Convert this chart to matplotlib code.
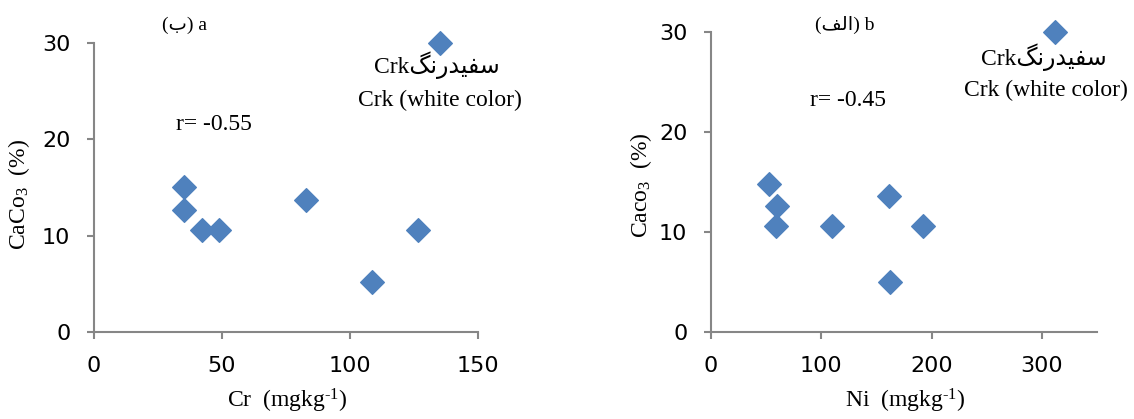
import matplotlib
matplotlib.use("Agg")
import matplotlib.pyplot as plt

plt.rcParams['mathtext.fontset'] = 'custom'
plt.rcParams['mathtext.rm'] = 'Liberation Serif'
plt.rcParams['mathtext.it'] = 'Liberation Serif:italic'

# ---- data ----
cr_values = [135, 35, 35, 42, 49, 83, 108.5, 126.5]
cr_caco3 = [30, 15.0, 12.7, 10.6, 10.6, 13.75, 5.2, 10.6]

ni_values = [312, 53, 60, 59, 110, 161, 162, 192]
ni_caco3 = [30, 14.8, 12.6, 10.6, 10.6, 13.6, 5.0, 10.6]

cr_xticks = [0, 50, 100, 150]
ni_xticks = [0, 100, 200, 300]
y_ticks = [0, 10, 20, 30]

# Persian text in presentation forms, visual order
persian_white = "\uFB93\uFEE7\uFEAD\uFEAA\uFBFF\uFED4\uFEB3"   # سفیدرنگ
label_b = "(\uFE8F) a"            # (ب) a
label_alef = "(\uFED2\uFEDF\uFE8D) b"  # (الف) b

W, H = 1134, 419
fig = plt.figure(figsize=(W / 100, H / 100), dpi=100)

def px_ax(x0, x1, y0, y1):
    return fig.add_axes([x0 / W, 1 - y1 / H, (x1 - x0) / W, (y1 - y0) / H])

ax1 = px_ax(94, 478, 43, 332)
ax2 = px_ax(711, 1097, 32, 332)

color = '#4F81BD'
spine_c = '#868686'
serif = ['Liberation Serif', 'DejaVu Sans']

for ax in (ax1, ax2):
    for s in ('top', 'right'):
        ax.spines[s].set_visible(False)
    for s in ('left', 'bottom'):
        ax.spines[s].set_color(spine_c)
        ax.spines[s].set_linewidth(1.5)
    ax.tick_params(direction='out', length=5, width=1.5, color=spine_c,
                   labelsize=16, pad=12)
    for lab in ax.get_xticklabels() + ax.get_yticklabels():
        lab.set_fontfamily('DejaVu Sans')
    ax.set_yticks(y_ticks)
    ax.set_ylim(0, 30)

ax1.scatter(cr_values, cr_caco3, marker='D', s=145, color=color, zorder=3, clip_on=False)
ax1.set_xlim(0, 150)
ax1.set_xticks(cr_xticks)

ax2.scatter(ni_values, ni_caco3, marker='D', s=145, color=color, zorder=3, clip_on=False)
ax2.set_xlim(0, 350)
ax2.set_xticks(ni_xticks)

def ftext(x, y, s, size=17, ha='center', rot=0):
    fig.text(x / W, 1 - y / H, s, fontsize=size, family=serif, ha=ha, va='center', rotation=rot)

# axis labels
ftext(287, 401, 'Cr  (mgkg$^{\\mathregular{\u2010 1}}$)')
ftext(905, 401, 'Ni  (mgkg$^{\\mathregular{\u2010 1}}$)')
ftext(19, 194, 'CaCo$_{\\mathregular{3}}$\u2002(%)', rot=90)
ftext(641, 185, 'Caco$_{\\mathregular{3}}$\u2002(%)', rot=90)

# annotations left
ftext(185, 25, label_b, size=14)
ftext(437, 65, "Crk" + persian_white)
ftext(440, 100, "Crk (white color)")
ftext(214, 125, "r= -0.55")

# annotations right
ftext(845, 25, label_alef, size=14)
ftext(1044, 57, "Crk" + persian_white)
ftext(1046, 90, "Crk (white color)")
ftext(848, 101, "r= -0.45")

fig.savefig('out.png', dpi=100)
